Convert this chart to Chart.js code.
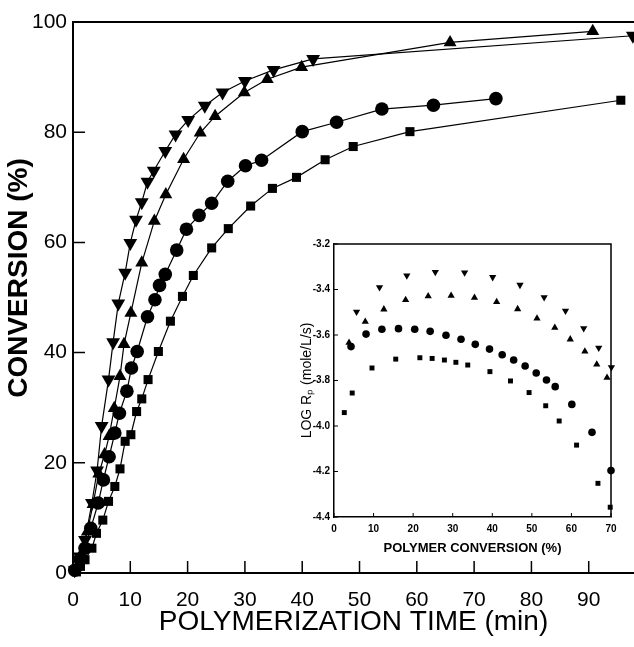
<!DOCTYPE html>
<html>
<head>
<meta charset="utf-8">
<script src="https://cdn.jsdelivr.net/npm/chart.js@4.4.1/dist/chart.umd.min.js"></script>
<style>
  body { margin: 0; background: #fff; }
  #wrap { position: relative; width: 634px; height: 647px; }
  #main { position: absolute; left: 0; top: 0; }
  #inset { position: absolute; left: 280px; top: 234px; }
</style>
</head>
<body>
<div id="wrap">
  <canvas id="main" width="634" height="647"></canvas>
  <canvas id="inset" width="340" height="330"></canvas>
</div>
<script>
// Main plot: conversion (%) vs polymerization time (min)
const invTriTime = [0.3, 1.2, 2.1, 3.3, 4.2, 5.0, 6.2, 7.0, 7.9, 9.1, 10.0, 11.0, 12.0, 13.0, 14.1, 16.1, 17.9, 20.1, 23.0, 26.1, 30.0, 35.0, 41.9, 97.7];
const invTriConv = [0.5, 3.0, 6.0, 12.7, 18.6, 26.7, 35.1, 41.9, 48.9, 54.5, 59.9, 64.1, 67.3, 71.0, 73.0, 76.6, 79.6, 82.2, 84.8, 87.2, 89.3, 91.3, 93.3, 97.5];

const triTime = [0.5, 1.5, 2.5, 3.5, 4.5, 5.5, 6.3, 7.2, 8.2, 8.9, 10.1, 12.0, 14.2, 16.2, 19.3, 22.2, 24.8, 29.9, 33.9, 39.9, 65.8, 90.7];
const triConv = [0.5, 3.5, 7.5, 12.5, 18.0, 21.5, 24.8, 29.9, 35.7, 41.5, 47.2, 56.3, 63.9, 68.7, 75.1, 79.9, 82.9, 87.2, 89.6, 91.8, 96.3, 98.3];

const circTime = [0.3, 1.2, 2.1, 3.1, 4.4, 5.3, 6.3, 7.3, 8.1, 9.4, 10.2, 11.2, 13.0, 14.3, 15.1, 16.1, 18.1, 19.8, 22.0, 24.2, 27.0, 30.1, 32.9, 40.0, 46.0, 53.9, 62.9, 73.8];
const circConv = [0.5, 2.5, 4.5, 8.1, 12.7, 16.9, 21.1, 25.4, 29.0, 33.0, 37.2, 40.2, 46.5, 49.6, 52.2, 54.2, 58.6, 62.4, 64.9, 67.1, 71.1, 73.9, 74.9, 80.1, 81.8, 84.2, 84.9, 86.1];

const sqTime = [0.6, 1.3, 2.1, 3.3, 4.1, 5.2, 6.2, 7.3, 8.2, 9.1, 10.1, 11.1, 12.0, 13.1, 14.9, 17.0, 19.1, 21.0, 24.2, 27.1, 31.0, 34.8, 39.0, 44.0, 48.9, 58.8, 95.6];
const sqConv = [0.2, 1.2, 2.4, 4.5, 7.2, 9.6, 13.0, 15.7, 18.9, 23.9, 25.1, 29.3, 31.6, 35.1, 40.2, 45.7, 50.2, 54.0, 59.0, 62.5, 66.6, 69.8, 71.8, 75.0, 77.4, 80.1, 85.8];

const mainXTicks = [0, 10, 20, 30, 40, 50, 60, 70, 80, 90];
const mainYTicks = [0, 20, 40, 60, 80, 100];

// Inset: log Rp vs polymer conversion (%)
const insInvTriX = [5.7, 11.5, 18.4, 25.6, 33.0, 40.1, 47.0, 53.1, 58.5, 63.1, 66.9, 70.1];
const insInvTriY = [-3.498, -3.390, -3.339, -3.323, -3.326, -3.346, -3.380, -3.434, -3.494, -3.571, -3.656, -3.742];
const insTriX = [3.8, 7.9, 12.6, 18.1, 23.8, 29.6, 35.5, 41.1, 46.4, 51.3, 55.8, 59.7, 63.4, 66.4, 69.0];
const insTriY = [-3.634, -3.541, -3.487, -3.446, -3.429, -3.427, -3.436, -3.455, -3.486, -3.527, -3.568, -3.619, -3.672, -3.729, -3.788];
const insCircX = [4.3, 8.1, 12.1, 16.3, 20.4, 24.3, 28.3, 32.1, 35.7, 39.3, 42.5, 45.4, 48.3, 51.1, 53.7, 55.9, 60.1, 65.2, 70.0];
const insCircY = [-3.651, -3.596, -3.575, -3.572, -3.575, -3.584, -3.601, -3.619, -3.641, -3.662, -3.687, -3.710, -3.736, -3.767, -3.798, -3.827, -3.905, -4.028, -4.196];
const insSqX = [2.6, 4.6, 9.6, 15.6, 21.7, 24.8, 27.9, 30.8, 33.8, 39.4, 44.6, 49.3, 53.5, 56.9, 61.3, 66.7, 69.8];
const insSqY = [-3.941, -3.855, -3.745, -3.706, -3.700, -3.703, -3.710, -3.720, -3.732, -3.761, -3.802, -3.853, -3.911, -3.978, -4.084, -4.252, -4.357];

const insXTicks = [0, 10, 20, 30, 40, 50, 60, 70];
const insYTicks = [-4.4, -4.2, -4, -3.8, -3.6, -3.4, -3.2];

const sans = '"Liberation Sans", Arial, sans-serif';

function pts(xs, ys) {
    return xs.map((x, i) => ({ x: x, y: ys[i] }));
}

function series(xs, ys, style, radius, rotation, withLine) {
    return {
        data: pts(xs, ys),
        showLine: withLine,
        borderColor: '#000',
        borderWidth: 1.2,
        backgroundColor: '#000',
        pointStyle: style,
        pointRotation: rotation,
        pointRadius: radius,
        pointBorderWidth: 0,
        pointBackgroundColor: '#000',
        tension: 0,
        clip: false
    };
}

// ticks pointing inwards + frame lines
const frameTicks = {
    id: 'frameTicks',
    afterDraw(chart, args, opts) {
        const { ctx, chartArea: a, scales } = chart;
        ctx.save();
        ctx.strokeStyle = '#000';
        ctx.lineWidth = opts.width;
        ctx.beginPath();
        scales.x.ticks.forEach(t => {
            const px = scales.x.getPixelForValue(t.value);
            ctx.moveTo(px, a.bottom);
            ctx.lineTo(px, a.bottom - opts.len);
        });
        scales.y.ticks.forEach(t => {
            const py = scales.y.getPixelForValue(t.value);
            ctx.moveTo(a.left, py);
            ctx.lineTo(a.left + opts.len, py);
        });
        ctx.stroke();
        ctx.lineWidth = opts.frame;
        ctx.beginPath();
        ctx.moveTo(a.left, a.top);
        ctx.lineTo(a.right, a.top);
        if (opts.box) {
            ctx.lineTo(a.right, a.bottom);
        }
        ctx.stroke();
        ctx.restore();
    }
};

new Chart(document.getElementById('main'), {
    type: 'scatter',
    data: {
        datasets: [
            series(invTriTime, invTriConv, 'triangle', 8, 180, true),
            series(triTime, triConv, 'triangle', 7.5, 0, true),
            series(circTime, circConv, 'circle', 6.8, 0, true),
            series(sqTime, sqConv, 'rect', 6.4, 0, true)
        ]
    },
    options: {
        responsive: false,
        devicePixelRatio: 1,
        animation: false,
        // the plot runs off the right edge of the page, so no auto padding
        layout: { autoPadding: false, padding: { top: 22, right: 0, left: 0, bottom: 0 } },
        plugins: {
            legend: { display: false },
            tooltip: { enabled: false },
            frameTicks: { len: 12, width: 1.5, frame: 2, box: false }
        },
        scales: {
            x: {
                type: 'linear',
                min: 0,
                max: 97.9,
                afterBuildTicks: s => { s.ticks = mainXTicks.map(v => ({ value: v })); },
                afterFit: s => { s.height = 74; s.paddingRight = 0; s.paddingLeft = 0; },
                grid: { display: false, drawTicks: false },
                border: { display: true, color: '#000', width: 2 },
                ticks: { color: '#000', padding: 15, maxRotation: 0, font: { family: sans, size: 21 } },
                title: {
                    display: true,
                    text: 'POLYMERIZATION TIME (min)',
                    color: '#000',
                    font: { family: sans, size: 28 },
                    padding: { top: 0, bottom: 8 }
                }
            },
            y: {
                type: 'linear',
                min: 0,
                max: 100,
                afterBuildTicks: s => { s.ticks = mainYTicks.map(v => ({ value: v })); },
                afterFit: s => { s.width = 73; },
                grid: { display: false, drawTicks: false },
                border: { display: true, color: '#000', width: 2 },
                ticks: { color: '#000', padding: 6, font: { family: sans, size: 21 } },
                title: {
                    display: true,
                    // leading spaces lift the centred label a little, as in the original
                    text: '     CONVERSION (%)',
                    color: '#000',
                    font: { family: sans, size: 28, weight: 'bold' },
                    padding: { top: 2, bottom: 0 }
                }
            }
        }
    },
    plugins: [frameTicks]
});

new Chart(document.getElementById('inset'), {
    type: 'scatter',
    data: {
        datasets: [
            series(insInvTriX, insInvTriY, 'triangle', 4.2, 180, false),
            series(insTriX, insTriY, 'triangle', 4.2, 0, false),
            series(insCircX, insCircY, 'circle', 3.8, 0, false),
            series(insSqX, insSqY, 'rect', 3.5, 0, false)
        ]
    },
    options: {
        responsive: false,
        devicePixelRatio: 1,
        animation: false,
        layout: { autoPadding: false, padding: { top: 10, right: 9, left: 0, bottom: 0 } },
        plugins: {
            legend: { display: false },
            tooltip: { enabled: false },
            frameTicks: { len: 4, width: 1, frame: 1.5, box: true }
        },
        scales: {
            x: {
                type: 'linear',
                min: 0,
                max: 70,
                afterBuildTicks: s => { s.ticks = insXTicks.map(v => ({ value: v })); },
                afterFit: s => { s.height = 47; s.paddingRight = 0; s.paddingLeft = 0; },
                grid: { display: false, drawTicks: false },
                border: { display: true, color: '#000', width: 1.5 },
                ticks: { color: '#000', padding: 6, maxRotation: 0, font: { family: sans, size: 10, weight: 'bold' } },
                title: {
                    display: true,
                    text: 'POLYMER CONVERSION (%)',
                    color: '#000',
                    font: { family: sans, size: 13, weight: 'bold' },
                    padding: { top: 0, bottom: 8 }
                }
            },
            y: {
                type: 'linear',
                min: -4.4,
                max: -3.2,
                afterBuildTicks: s => { s.ticks = insYTicks.map(v => ({ value: v })); },
                afterFit: s => { s.width = 54; },
                grid: { display: false, drawTicks: false },
                border: { display: true, color: '#000', width: 1.5 },
                ticks: { color: '#000', padding: 4, font: { family: sans, size: 10, weight: 'bold' } },
                title: {
                    display: true,
                    text: 'LOG Rₚ (mole/L/s)',
                    color: '#000',
                    font: { family: sans, size: 14 },
                    padding: { top: 19, bottom: 0 }
                }
            }
        }
    },
    plugins: [frameTicks]
});
</script>
</body>
</html>
